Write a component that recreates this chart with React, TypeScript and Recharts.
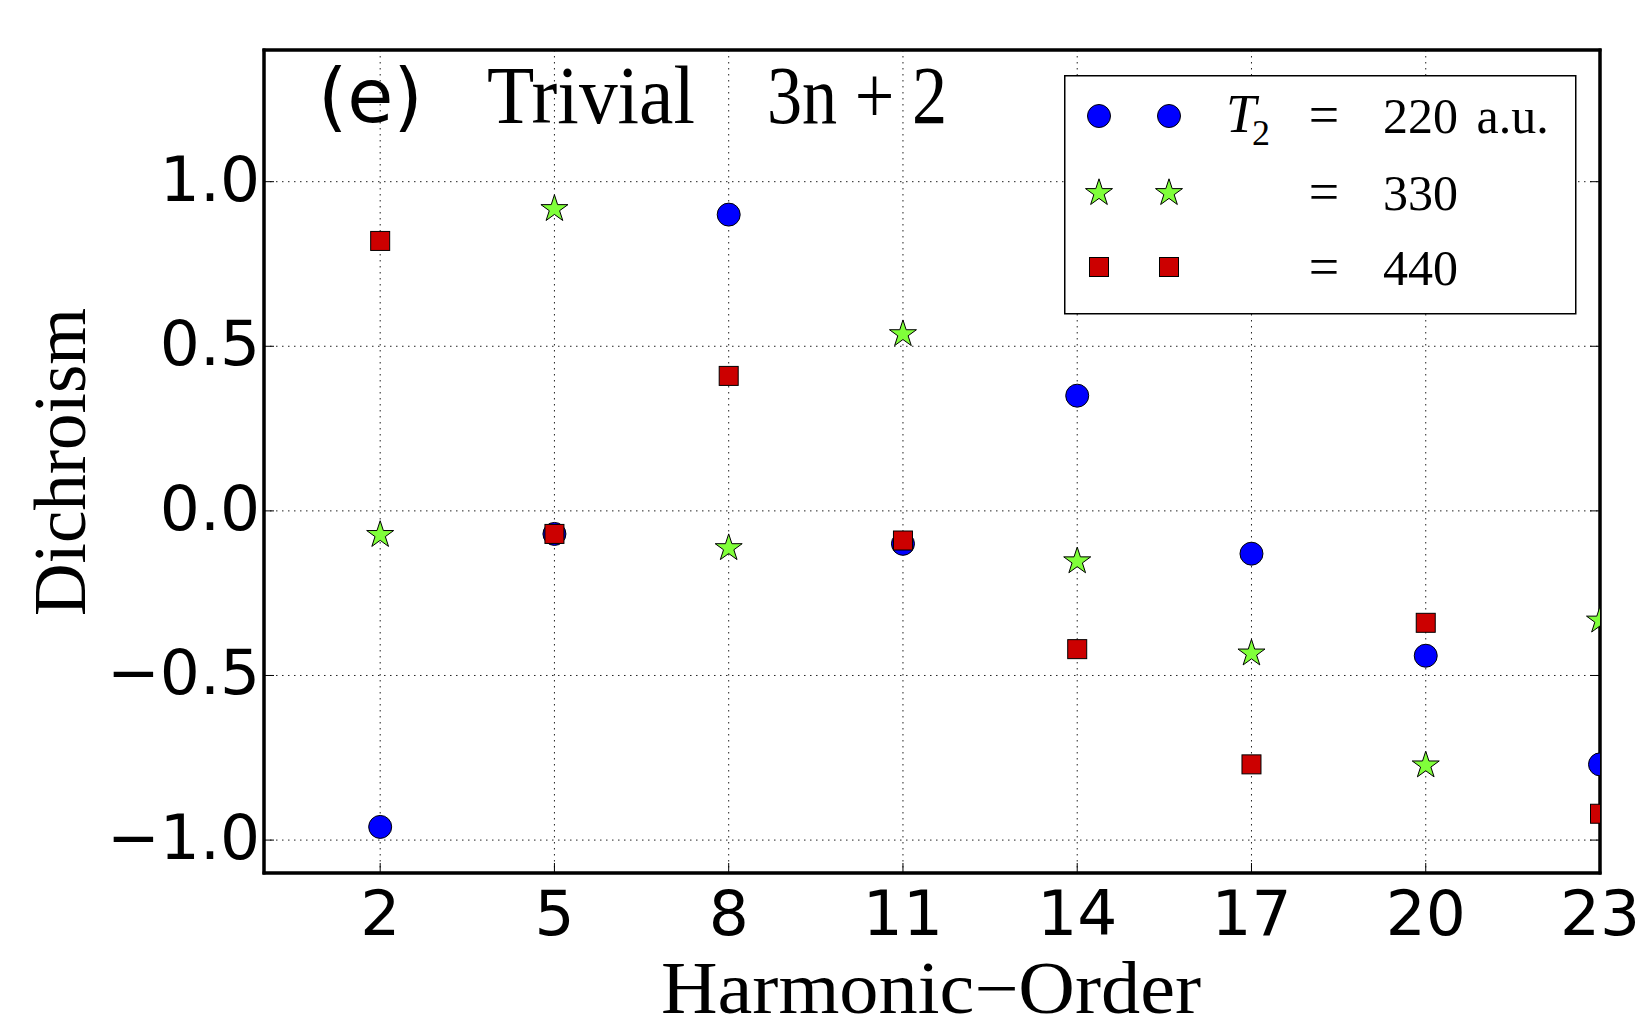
import React from 'react';
import { ScatterChart, Scatter, XAxis, YAxis, CartesianGrid, Legend, ReferenceArea } from 'recharts';

// ---- data ----
const harmonics = [2, 5, 8, 11, 14, 17, 20, 23];
const dichroism220 = [-0.96, -0.07, 0.9, -0.1, 0.35, -0.13, -0.44, -0.77];
const dichroism330 = [-0.07, 0.92, -0.11, 0.54, -0.15, -0.43, -0.77, -0.33];
const dichroism440 = [0.82, -0.07, 0.41, -0.09, -0.42, -0.77, -0.34, -0.92];
const xTicks = [2, 5, 8, 11, 14, 17, 20, 23];
const yTicks = [-1, -0.5, 0, 0.5, 1];
const xDomain = [0, 23];
const yDomain = [-1.1, 1.4];
const seriesNames = ['220 a.u.', '330', '440'];
const seriesColors = ['#0000ff', '#80ff3a', '#cc0000'];
const seriesShapes = ['circle', 'star', 'square'];

const toPoints = (ys: number[]) => harmonics.map((x, i) => ({ x, y: ys[i] }));
const data220 = toPoints(dichroism220);
const data330 = toPoints(dichroism330);
const data440 = toPoints(dichroism440);

const SERIF = '"Liberation Serif", serif';
const SANS = '"DejaVu Sans", sans-serif';

function starPath(cx: number, cy: number, R: number) {
  const r = R * 0.381966;
  let d = '';
  for (let k = 0; k < 10; k++) {
    const rad = k % 2 === 0 ? R : r;
    const a = -Math.PI / 2 + (k * Math.PI) / 5;
    d += (k === 0 ? 'M' : 'L') + (cx + rad * Math.cos(a)).toFixed(2) + ',' + (cy + rad * Math.sin(a)).toFixed(2);
  }
  return d + 'Z';
}

function Marker({ kind, cx, cy, fill }: { kind: string; cx: number; cy: number; fill: string }) {
  if (kind === 'circle') return <circle cx={cx} cy={cy} r={11.5} fill={fill} stroke="#000" strokeWidth={1} />;
  if (kind === 'square')
    return <rect x={cx - 9.5} y={cy - 9.5} width={19} height={19} fill={fill} stroke="#000" strokeWidth={1} />;
  return <path d={starPath(cx, cy + 1, 14.2)} fill={fill} stroke="#000" strokeWidth={1} strokeLinejoin="miter" />;
}

const makeShape = (idx: number) => (props: any) =>
  <Marker kind={seriesShapes[idx]} cx={props.cx} cy={props.cy} fill={seriesColors[idx]} />;

const fmtY = (v: number) => (v < 0 ? '\u2212' : '') + Math.abs(v).toFixed(1);

const XTick = (props: any) => (
  <text x={props.x} y={props.y} dy="0.76em" textAnchor="middle" fontFamily={SANS} fontSize={63} fill="#000">
    {props.payload.value}
  </text>
);

const YTick = (props: any) => (
  <text x={props.x} y={props.y} dy="0.3em" textAnchor="end" fontFamily={SANS} fontSize={63} fill="#000">
    {fmtY(props.payload.value)}
  </text>
);

const NoTick = () => <g />;

const LegendBox = () => {
  const rowY = [41, 117, 192];
  const baseY = [58, 135, 210];
  return (
    <svg width={514} height={241} style={{ display: 'block', overflow: 'visible' }}>
      <rect x={0.75} y={0.75} width={511} height={238} fill="#fff" stroke="#000" strokeWidth={1.5} />
      {seriesNames.map((name, i) => (
        <g key={name}>
          <Marker kind={seriesShapes[i]} cx={35} cy={rowY[i]} fill={seriesColors[i]} />
          <Marker kind={seriesShapes[i]} cx={105} cy={rowY[i]} fill={seriesColors[i]} />
          <text x={260} y={baseY[i]} textAnchor="middle" fontFamily={SERIF} fontSize={54} fill="#000">=</text>
          <text x={319} y={baseY[i]} fontFamily={SERIF} fontSize={50} fill="#000" style={{ wordSpacing: 6 }}>
            {name}
          </text>
        </g>
      ))}
      <text x={162} y={57} fontFamily={SERIF} fontStyle="italic" fontSize={54} fill="#000">T</text>
      <text x={188} y={70} fontFamily={SERIF} fontSize={36} fill="#000">2</text>
    </svg>
  );
};

export default function App() {
  const axisLine = { stroke: '#000', strokeWidth: 3, strokeLinecap: 'square' as const };
  const tickLine = { stroke: '#000', strokeWidth: 1 };
  return (
    <div style={{ position: 'absolute', left: 0, top: 0, width: 1650, height: 1018, background: '#fff' }}>
      <ScatterChart width={1650} height={1018} margin={{ top: 49, right: 49, bottom: 0, left: 0 }}>
        <CartesianGrid stroke="#222" strokeWidth={1} strokeDasharray="1.5 4.5" />
        <XAxis
          xAxisId={0}
          dataKey="x"
          type="number"
          domain={xDomain}
          ticks={xTicks}
          interval={0}
          allowDataOverflow
          height={145}
          tickSize={-10}
          tickMargin={24}
          axisLine={axisLine}
          tickLine={tickLine}
          tick={XTick}
        />
        <XAxis
          xAxisId="top"
          orientation="top"
          type="number"
          domain={xDomain}
          ticks={xTicks}
          interval={0}
          allowDataOverflow
          height={1}
          tickSize={-10}
          axisLine={axisLine}
          tickLine={tickLine}
          tick={NoTick}
        />
        <YAxis
          yAxisId={0}
          dataKey="y"
          type="number"
          domain={yDomain}
          ticks={yTicks}
          interval={0}
          allowDataOverflow
          width={264}
          tickSize={-10}
          tickMargin={14}
          axisLine={axisLine}
          tickLine={tickLine}
          tick={YTick}
        />
        <YAxis
          yAxisId="right"
          orientation="right"
          type="number"
          domain={yDomain}
          ticks={yTicks}
          interval={0}
          allowDataOverflow
          width={1}
          tickSize={-10}
          axisLine={axisLine}
          tickLine={tickLine}
          tick={NoTick}
        />
        <Scatter name={seriesNames[0]} data={data220} fill={seriesColors[0]} shape={makeShape(0)} isAnimationActive={false} />
        <Scatter name={seriesNames[1]} data={data330} fill={seriesColors[1]} shape={makeShape(1)} isAnimationActive={false} />
        <Scatter name={seriesNames[2]} data={data440} fill={seriesColors[2]} shape={makeShape(2)} isAnimationActive={false} />
        <ReferenceArea
          x1={xDomain[0]}
          x2={xDomain[1]}
          y1={yDomain[0]}
          y2={yDomain[1]}
          fill="none"
          fillOpacity={0}
          stroke="#000"
          strokeWidth={3}
          ifOverflow="visible"
        />
        <Legend
          layout="vertical"
          verticalAlign="middle"
          align="center"
          content={LegendBox}
          wrapperStyle={{ position: 'absolute', left: 1064, top: 75, width: 514, height: 241 }}
        />
      </ScatterChart>
      <svg
        width={1650}
        height={1018}
        style={{ position: 'absolute', left: 0, top: 0, pointerEvents: 'none' }}
      >
        <text x={318} y={122} fontFamily={SANS} fontSize={75} fill="#000">(e)</text>
        <text x={487} y={123} fontFamily={SERIF} fontSize={82} fill="#000" textLength={208} lengthAdjust="spacingAndGlyphs">
          Trivial
        </text>
        <text x={767} y={123} fontFamily={SERIF} fontSize={82} fill="#000" textLength={180} lengthAdjust="spacingAndGlyphs">
          3n + 2
        </text>
        <text x={931} y={1013} textAnchor="middle" fontFamily={SERIF} fontSize={73} fill="#000" textLength={540} lengthAdjust="spacingAndGlyphs">
          Harmonic{'\u2212'}Order
        </text>
        <text transform="translate(85,462) rotate(-90)" textAnchor="middle" fontFamily={SERIF} fontSize={73} fill="#000">
          Dichroism
        </text>
      </svg>
    </div>
  );
}
